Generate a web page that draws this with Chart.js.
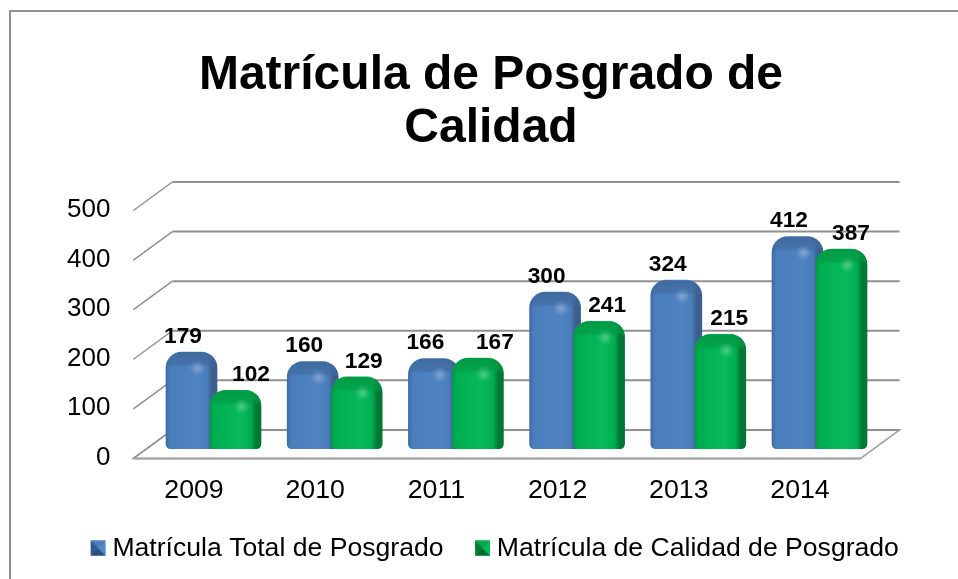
<!DOCTYPE html>
<html><head><meta charset="utf-8">
<style>html,body{margin:0;padding:0;background:#fff}canvas{display:block}</style>
<script src="https://cdn.jsdelivr.net/npm/chart.js@4/dist/chart.umd.min.js"></script>
</head><body><canvas id="c" width="958" height="579"></canvas>
<script>
const categories = ['2009','2010','2011','2012','2013','2014'];
const totalValues = [179,160,166,300,324,412];
const calidadValues = [102,129,167,241,215,387];
const seriesNames = ['Matrícula Total de Posgrado','Matrícula de Calidad de Posgrado'];
const titleLines = ['Matrícula de Posgrado de','Calidad'];
const yTicks = [0,100,200,300,400,500];

const FONT = '"Liberation Sans", Arial, sans-serif';
const DEPTH_X = 39, DEPTH_BACK = 28, DEPTH_FRONT = 0.5;
const SHIFT = [-2.5, 41.5];
const LABEL_DX = [[-8.5,-8.5,-8.5,-8.5,-8.5,-8.5],[15.5,7,17,8,9,9.5]];
const STYLE = [
  {main:'#4A7DBB',light:'#5083C2',dark:'#3F6CA4',top:'#3F6A9E',edge:'#3A5F8C',mTop:'#4A7EBB',mLeft:'#2F5A8F',mRight:'#5388C6',mBot:'#2A4E7C'},
  {main:'#00AE50',light:'#07B95A',dark:'#009A46',top:'#009A44',edge:'#007835',mTop:'#00A64A',mLeft:'#007F38',mRight:'#00B858',mBot:'#006B30'}
];

function marker(s){
  const c=document.createElement('canvas');c.width=24;c.height=16;
  const g=c.getContext('2d');const x=8,y=0.5,w=15,h=15,cx=x+w/2,cy=y+h/2;
  const tri=(pts,col)=>{g.fillStyle=col;g.beginPath();pts.forEach((p,i)=>i?g.lineTo(p[0],p[1]):g.moveTo(p[0],p[1]));g.closePath();g.fill();};
  g.fillStyle=s.main;g.fillRect(x,y,w,h);
  tri([[x,y],[x+w,y],[cx,cy]],s.mTop);
  tri([[x,y+h],[x+w,y+h],[cx,cy]],s.mBot);
  tri([[x,y],[x,y+h],[cx,cy]],s.mLeft);
  tri([[x+w,y],[x+w,y+h],[cx,cy]],s.mRight);
  return c;
}
function fillFor(i){
  return ctx=>{
    const chart=ctx.chart;const xs=chart.scales.x;
    if(!xs||!chart.chartArea||ctx.dataIndex===undefined) return STYLE[i].main;
    const cx=xs.getPixelForValue(ctx.dataIndex);
    const g=chart.ctx.createLinearGradient(cx-25.5,0,cx+25.5,0);
    const s=STYLE[i];
    g.addColorStop(0,s.dark);g.addColorStop(.08,s.main);g.addColorStop(.58,s.light);
    g.addColorStop(.8,s.main);g.addColorStop(.9,s.edge);g.addColorStop(1,s.edge);
    return g;
  };
}
const scene={
  id:'scene',
  beforeLayout(chart){
    if(chart.legend) chart.legend.afterFit=function(){this.height=76;};
  },
  afterLayout(chart){
    if(chart.legend){chart.legend.left+=3.5;chart.legend.right+=3.5;}
  },
  beforeDraw(chart){
    const c=chart.ctx;
    c.save();c.strokeStyle='#909090';c.lineWidth=2;
    c.beginPath();c.moveTo(10,579);c.lineTo(10,11);c.lineTo(958,11);c.stroke();
    c.restore();
  },
  beforeDatasetsDraw(chart){
    const c=chart.ctx,y=chart.scales.y,x=chart.scales.x;
    const l=x.left,r=x.right;
    c.save();
    const f0=y.getPixelForValue(0)+DEPTH_FRONT,b0=y.getPixelForValue(0)-DEPTH_BACK;
    c.fillStyle='#fdfdfd';c.strokeStyle='#a0a0a0';c.lineWidth=1.5;
    c.beginPath();c.moveTo(l,f0);c.lineTo(l+DEPTH_X,b0);c.lineTo(r+DEPTH_X,b0);c.lineTo(r,f0);c.closePath();c.fill();c.stroke();
    c.strokeStyle='#909090';
    yTicks.forEach(v=>{
      const p=y.getPixelForValue(v);
      c.lineWidth=1.5;c.beginPath();c.moveTo(l,p+DEPTH_FRONT);c.lineTo(l+DEPTH_X,p-DEPTH_BACK);c.stroke();
      c.lineWidth=2;c.beginPath();c.moveTo(l+DEPTH_X,p-DEPTH_BACK);c.lineTo(r+DEPTH_X,p-DEPTH_BACK);c.stroke();
    });
    c.strokeStyle='#a0a0a0';c.lineWidth=2;c.beginPath();c.moveTo(l,f0);c.lineTo(r,f0);c.stroke();
    c.restore();
  },
  beforeDatasetDraw(chart,args){
    chart.ctx.save();chart.ctx.translate(SHIFT[args.index],0);
  },
  afterDatasetDraw(chart,args){
    const c=chart.ctx,s=STYLE[args.index];
    args.meta.data.forEach(b=>{
      const p=b.getProps(['x','y','width','base'],true);
      const L=p.x-p.width/2,W=p.width,T=p.y,H=p.base-p.y;
      c.save();
      c.beginPath();c.roundRect(L,T,W,H,[{x:16,y:16},{x:16,y:16},{x:6,y:4},{x:6,y:4}]);c.clip();
      const g=c.createLinearGradient(0,T,0,T+15);
      g.addColorStop(0,s.top);g.addColorStop(.8,s.top+'99');g.addColorStop(1,s.top+'00');
      c.fillStyle=g;c.fillRect(L,T,W,16);
      const hx=L+W*.62,hy=T+16;
      const r=c.createRadialGradient(hx,hy,0,hx,hy,8);
      r.addColorStop(0,'rgba(255,255,255,.28)');r.addColorStop(1,'rgba(255,255,255,0)');
      c.fillStyle=r;c.fillRect(hx-8,hy-8,16,16);
      c.restore();
    });
    c.restore();
  },
  afterDatasetsDraw(chart){
    const c=chart.ctx;
    c.save();c.fillStyle='#000';c.font='bold 22.7px '+FONT;c.textAlign='center';c.textBaseline='middle';
    chart.data.datasets.forEach((d,i)=>{
      chart.getDatasetMeta(i).data.forEach((b,j)=>{
        c.fillText(String(d.data[j]),b.x+SHIFT[i]+LABEL_DX[i][j],b.y-15.5);
      });
    });
    c.restore();
  }
};
new Chart(document.getElementById('c'),{
  type:'bar',
  data:{labels:categories,datasets:[
    {label:seriesNames[0],data:totalValues,yAxisID:'y1',order:1,base:-16,grouped:false,barThickness:51,clip:false,backgroundColor:fillFor(0),borderSkipped:false,borderRadius:{topLeft:16,topRight:16,bottomLeft:5,bottomRight:5}},
    {label:seriesNames[1],data:calidadValues,yAxisID:'y1',order:0,base:-16,grouped:false,barThickness:51,clip:false,backgroundColor:fillFor(1),borderSkipped:false,borderRadius:{topLeft:16,topRight:16,bottomLeft:5,bottomRight:5}}
  ]},
  plugins:[scene],
  options:{
    responsive:false,animation:false,
    layout:{padding:{left:24,right:0,top:0,bottom:7.5}},
    plugins:{
      tooltip:{enabled:false},
      title:{display:true,text:titleLines,color:'#000',font:{family:FONT,size:48,weight:'bold',lineHeight:1.104},padding:{top:49,bottom:55}},
      legend:{position:'bottom',align:'center',
        labels:{color:'#000',font:{family:FONT,size:26.6},usePointStyle:true,boxWidth:9,boxHeight:15,padding:31,
          generateLabels(chart){
            return chart.data.datasets.map((d,i)=>({text:d.label,datasetIndex:i,pointStyle:marker(STYLE[i]),fontColor:'#000',lineWidth:0,strokeStyle:'transparent',fillStyle:'transparent'}));
          }}}
    },
    scales:{
      x:{grid:{display:false},border:{display:false},
        afterFit(a){a.height=46;},
        ticks:{color:'#000',font:{family:FONT,size:26.7},padding:9,maxRotation:0}},
      y:{position:'left',min:0,max:500,grid:{display:false},border:{display:false},
        afterBuildTicks(a){a.ticks=yTicks.map(v=>({value:v}));},
        afterFit(a){a.width=109.4;},
        ticks:{color:'#000',font:{family:FONT,size:26},padding:15}},
      y1:{position:'right',min:-34.4,max:465.6,grid:{display:false},border:{display:false},ticks:{display:false},
        afterFit(a){a.width=97.4;}}
    }
  }
});
</script></body></html>
